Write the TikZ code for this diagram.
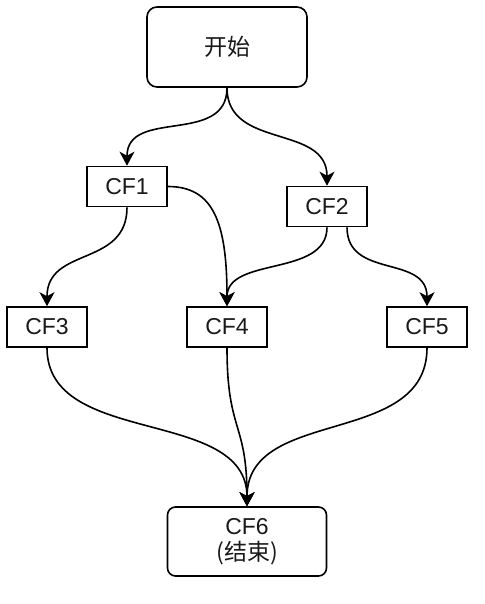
\documentclass[tikz,border=0pt]{standalone}
\usepackage{fontspec}
\setmainfont{Liberation Sans}
\newfontfamily\cjk{Noto Sans CJK SC}
\usetikzlibrary{arrows.meta}
\begin{document}
\begin{tikzpicture}[x=1pt,y=-1pt,
  every node/.style={font=\fontsize{23}{26}\selectfont, text=black!90},
  roundbox/.style={draw, line width=1.6pt, rounded corners=10pt, inner sep=0pt},
  cfbox/.style={draw, line width=1.6pt, minimum width=80pt, minimum height=40pt, inner sep=0pt},
  conn/.style={line width=1.6pt, -{Stealth[length=14pt,width=15pt,inset=4pt]}}
]
\useasboundingbox[fill=white] (0,0) rectangle (484,604);
\node[roundbox, minimum width=160pt, minimum height=80pt] (start) at (227,47) {\cjk 开始};
\node[cfbox] (cf1) at (127,186.5) {CF1};
\node[cfbox] (cf2) at (327,206.5) {CF2};
\node[cfbox] (cf3) at (47,327) {CF3};
\node[cfbox] (cf4) at (227,327) {CF4};
\node[cfbox] (cf5) at (427,327) {CF5};
\node[roundbox, rounded corners=8pt, minimum width=159pt, minimum height=69pt, align=center] (cf6) at (247,541.5) {CF6\\{\cjk (结束)}};

\draw[conn] (start.south) .. controls +(0,58) and +(0,-58) .. (cf1.north);
\draw[conn] (start.south) .. controls +(0,62) and +(0,-62) .. (cf2.north);
\draw[conn] (cf1.south) .. controls +(0,60) and +(0,-60) .. (cf3.north);
\draw[conn] (cf1.east) .. controls +(45,0) and +(0,-85) .. (cf4.north);
\draw[conn] (cf2.south) .. controls +(0,50) and +(0,-50) .. (cf4.north);
\draw[conn] ([xshift=20pt]cf2.south) .. controls +(0,52) and +(0,-52) .. (cf5.north);
\draw[conn] (cf3.south) .. controls +(0,100) and +(0,-100) .. (cf6.north);
\draw[conn] (cf4.south) .. controls +(0,85) and +(0,-85) .. (cf6.north);
\draw[conn] (cf5.south) .. controls +(0,100) and +(0,-100) .. (cf6.north);
\end{tikzpicture}
\end{document}
